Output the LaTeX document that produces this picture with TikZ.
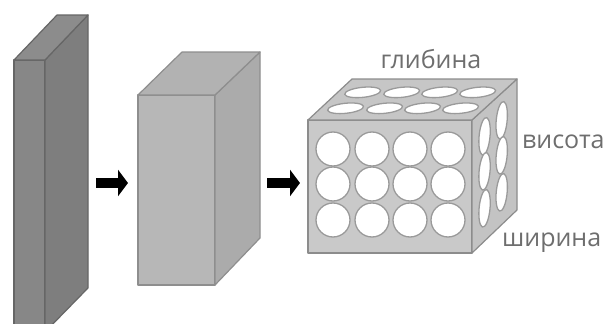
\documentclass[tikz,border=0pt]{standalone}
\usepackage{fontspec}
\setmainfont{Open Sans}
\usetikzlibrary{arrows.meta}
\definecolor{aFront}{HTML}{878787}
\definecolor{aRight}{HTML}{7E7E7E}
\definecolor{aTop}{HTML}{8C8C8C}
\definecolor{aEdge}{HTML}{666666}
\definecolor{bFront}{HTML}{B7B7B7}
\definecolor{bRight}{HTML}{ABABAB}
\definecolor{bTop}{HTML}{B2B2B2}
\definecolor{bEdge}{HTML}{8E8E8E}
\definecolor{cFront}{HTML}{C9C9C9}
\definecolor{cRight}{HTML}{C3C3C3}
\definecolor{cTop}{HTML}{C6C6C6}
\definecolor{cEdge}{HTML}{8C8C8C}
\definecolor{holeline}{HTML}{9A9A9A}
\definecolor{lbl}{HTML}{6E6E6E}
\begin{document}
\begin{tikzpicture}[x=1pt,y=-1pt,
  edge/.style={line width=1.2pt, line join=round},
  hole/.style={fill=white, draw=holeline, line width=1.3pt},
  flow/.style={line width=10pt, -{Triangle[length=10pt,width=26pt]}},
  dim/.style={text=lbl, font=\fontsize{25}{27}\selectfont, inner sep=0pt}
]
\useasboundingbox (0,0) rectangle (606,324);
\fill[white] (0,0) rectangle (606,324);
\begin{scope}
\clip (0,0) rectangle (606,324);
% box 1 (thin slab)
\coordinate (p1) at (14,60);
\coordinate (p2) at (45,60);
\coordinate (p3) at (45,332);
\coordinate (p4) at (14,332);
\coordinate (p5) at (57,15);
\coordinate (p6) at (88,15);
\coordinate (p7) at (88,288);
\filldraw[edge, fill=aFront, draw=aEdge] (p1) -- (p2) -- (p3) -- (p4) -- cycle;
\filldraw[edge, fill=aRight, draw=aEdge] (p2) -- (p6) -- (p7) -- (p3) -- cycle;
\filldraw[edge, fill=aTop, draw=aEdge] (p1) -- (p5) -- (p6) -- (p2) -- cycle;
\end{scope}
% box 2
\coordinate (q1) at (138,95);
\coordinate (q2) at (215,95);
\coordinate (q3) at (215,285);
\coordinate (q4) at (138,285);
\coordinate (q5) at (182,52);
\coordinate (q6) at (260,52);
\coordinate (q7) at (260,238);
\filldraw[edge, fill=bFront, draw=bEdge] (q1) -- (q2) -- (q3) -- (q4) -- cycle;
\filldraw[edge, fill=bRight, draw=bEdge] (q2) -- (q6) -- (q7) -- (q3) -- cycle;
\filldraw[edge, fill=bTop, draw=bEdge] (q1) -- (q5) -- (q6) -- (q2) -- cycle;
% box 3
\coordinate (r1) at (308,120);
\coordinate (r2) at (472,120);
\coordinate (r3) at (472,253);
\coordinate (r4) at (308,253);
\coordinate (r5) at (352,79);
\coordinate (r6) at (517,79);
\coordinate (r7) at (517,210);
\filldraw[edge, fill=cFront, draw=cEdge] (r1) -- (r2) -- (r3) -- (r4) -- cycle;
\filldraw[edge, fill=cRight, draw=cEdge] (r2) -- (r6) -- (r7) -- (r3) -- cycle;
\filldraw[edge, fill=cTop, draw=cEdge] (r1) -- (r5) -- (r6) -- (r2) -- cycle;
% front holes
\foreach \cx in {333,372,410,448}
  \foreach \cy in {149,184,220}
    \draw[hole] (\cx,\cy) circle[radius=17];
% top holes
\begin{scope}[shift={(308,120)}, x={(1pt,0pt)}, y={(0.571pt,0.532pt)}]
\foreach \u in {25,64,102,140}
  \foreach \v in {22,52}
    \draw[hole] (\u,\v) ellipse[x radius=17, y radius=10];
\end{scope}
% right holes
\begin{scope}[shift={(472,120)}, x={(0.571pt,0.532pt)}, y={(0pt,-1pt)}]
\foreach \v in {22,52}
  \foreach \w in {28,63,100}
    \draw[hole] (\v,\w) ellipse[x radius=10, y radius=18];
\end{scope}
% arrows
\coordinate (a1s) at (96,183);
\coordinate (a1e) at (128,183);
\coordinate (a2s) at (267,183);
\coordinate (a2e) at (300,183);
\draw[flow] (a1s) -- (a1e);
\draw[flow] (a2s) -- (a2e);
% labels
\node[dim, anchor=base] (depth) at (431,68) {глибина};
\node[dim, anchor=base west] (height) at (522,148) {висота};
\node[dim, anchor=base west] (width) at (502,246) {ширина};
\end{tikzpicture}
\end{document}
